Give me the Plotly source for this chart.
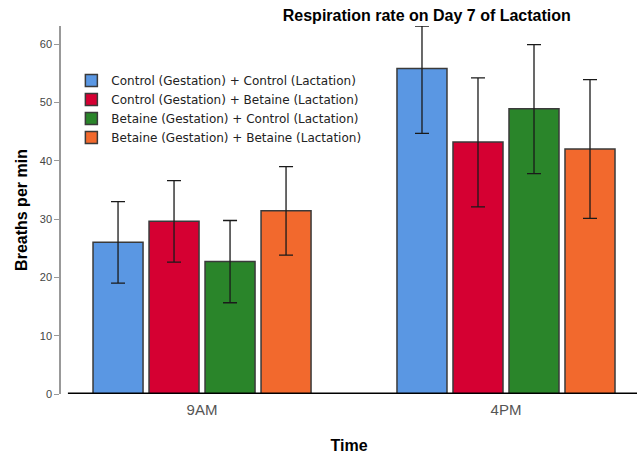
import plotly.graph_objects as go

times = ["9AM", "4PM"]
series_names = [
    "Control (Gestation) + Control (Lactation)",
    "Control (Gestation) + Betaine (Lactation)",
    "Betaine (Gestation) + Control (Lactation)",
    "Betaine (Gestation) + Betaine (Lactation)",
]
cc_vals = [26.0, 55.8]
cb_vals = [29.6, 43.2]
bc_vals = [22.7, 48.9]
bb_vals = [31.4, 42.0]
# upper / lower error extents as drawn
cc_err_up = [7.0, 7.3]
cc_err_dn = [7.0, 11.1]
cb_err_up = [7.0, 11.0]
cb_err_dn = [7.0, 11.1]
bc_err_up = [7.05, 11.0]
bc_err_dn = [7.05, 11.1]
bb_err_up = [7.6, 11.9]
bb_err_dn = [7.6, 11.9]
colors = ["#5A97E3", "#D50032", "#2A852A", "#F2692D"]
y_ticks = [0, 10, 20, 30, 40, 50, 60]

values = [cc_vals, cb_vals, bc_vals, bb_vals]
errors_up = [cc_err_up, cb_err_up, bc_err_up, bb_err_up]
errors_dn = [cc_err_dn, cb_err_dn, bc_err_dn, bb_err_dn]

FONT = "Liberation Sans, Arial, sans-serif"

fig = go.Figure()
for name, vals, eu, ed, col in zip(series_names, values, errors_up, errors_dn, colors):
    fig.add_trace(go.Bar(
        x=times, y=vals, name=name, cliponaxis=False,
        marker=dict(color=col, line=dict(color="#3a3a3a", width=1.5)),
        error_y=dict(type="data", array=eu, arrayminus=ed, symmetric=False,
                     visible=True, color="#1a1a1a", thickness=1.3, width=7),
    ))

fig.update_layout(
    width=637, height=457,
    margin=dict(l=61, r=0, t=26, b=63),
    paper_bgcolor="white", plot_bgcolor="white",
    font=dict(family=FONT, color="#333333"),
    barmode="group", bargap=0.263, bargroupgap=0.107,
    title=dict(text="<b>Respiration rate on Day 7 of Lactation</b>",
               x=0.670, xanchor="center", xref="container",
               y=0.967, yanchor="middle",
               font=dict(size=16, color="#000000", family=FONT)),
    legend=dict(x=0.018, y=0.891, xanchor="left", yanchor="top",
                bgcolor="rgba(0,0,0,0)",
                font=dict(size=12, color="#222222", family="DejaVu Sans, sans-serif"),
                traceorder="normal"),
    showlegend=True,
)
fig.update_xaxes(
    type="category", range=[-0.464, 1.431],
    showline=False, ticks="", showgrid=False, ticklabelstandoff=5,
    tickfont=dict(size=15, color="#555555"),
    title=dict(text="<b>Time</b>", font=dict(size=16, color="#000000"), standoff=22),
)
fig.update_yaxes(
    range=[0, 63.1], tickvals=y_ticks, ticks="outside", ticklen=5,
    tickcolor="#999999", showline=True, linecolor="#999999", linewidth=1.5,
    showgrid=False, zeroline=False,
    tickfont=dict(size=11, color="#444444"),
    title=dict(text="<b>Breaths per min</b>", font=dict(size=16, color="#000000"), standoff=8),
)
fig.add_shape(type="line", xref="paper", yref="y", x0=0.012, x1=1, y0=0, y1=0,
              line=dict(color="black", width=3))

fig.write_html("out.html", config={"displayModeBar": False},
               post_script="document.body.style.margin='0px';")
